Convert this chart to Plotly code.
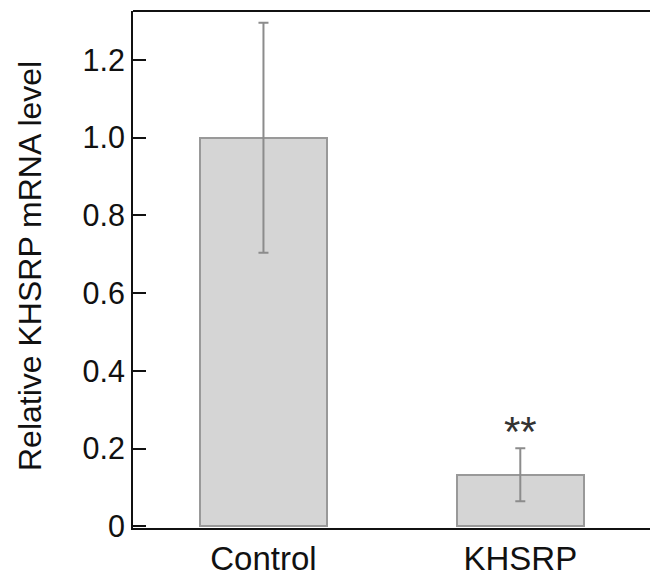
import plotly.graph_objects as go

# Relative KHSRP mRNA expression (mean ± error)
groups = ["Control", "KHSRP"]
means = [1.0, 0.133]
errors = [0.296, 0.068]
significance = ["", "**"]

y_ticks = [0, 0.2, 0.4, 0.6, 0.8, 1.0, 1.2]
y_tick_text = ["0", "0.2", "0.4", "0.6", "0.8", "1.0", "1.2"]

FONT = "Liberation Sans, Arial, Helvetica, sans-serif"

fig = go.Figure()
fig.add_trace(go.Bar(
    x=[0, 1],
    y=means,
    width=0.494,
    marker=dict(color="#d5d5d5", line=dict(color="#999999", width=2)),
    error_y=dict(type="data", array=errors, visible=True,
                 color="#8c8c8c", thickness=2, width=5),
    showlegend=False,
))

# significance marks above the error bars
for i, (m, e, s) in enumerate(zip(means, errors, significance)):
    if s:
        fig.add_annotation(x=i, y=m + e, text=s, showarrow=False,
                           yanchor="bottom", yshift=-9,
                           font=dict(family=FONT, size=42, color="#333333"))

# y-axis title
fig.add_annotation(xref="paper", yref="paper", x=-0.199, y=0.507,
                   text="Relative KHSRP mRNA level", textangle=-90,
                   showarrow=False, xanchor="center", yanchor="middle",
                   font=dict(family=FONT, size=32, color="#111111"))

# top frame line
fig.add_shape(type="line", xref="paper", yref="paper", x0=0, x1=1, y0=1, y1=1,
              line=dict(color="#111111", width=2))

fig.update_layout(
    width=650, height=577,
    margin=dict(l=133, r=0, t=11, b=49),
    plot_bgcolor="white", paper_bgcolor="white",
    font=dict(family=FONT, size=30, color="#111111"),
    bargap=0,
)
fig.update_xaxes(
    range=[-0.508, 1.505],
    tickvals=[0, 1], ticktext=groups,
    showline=True, linecolor="#111111", linewidth=2,
    ticks="", showgrid=False, zeroline=False,
    tickfont=dict(family=FONT, size=33, color="#111111"),
)
fig.update_yaxes(
    range=[-0.004, 1.326],
    tickvals=y_ticks, ticktext=y_tick_text,
    showline=True, linecolor="#111111", linewidth=2,
    ticks="inside", ticklen=13, tickwidth=2, tickcolor="#111111",
    showgrid=False, zeroline=False,
    tickfont=dict(family=FONT, size=30.5, color="#111111"),
)

fig.write_html("out.html")
